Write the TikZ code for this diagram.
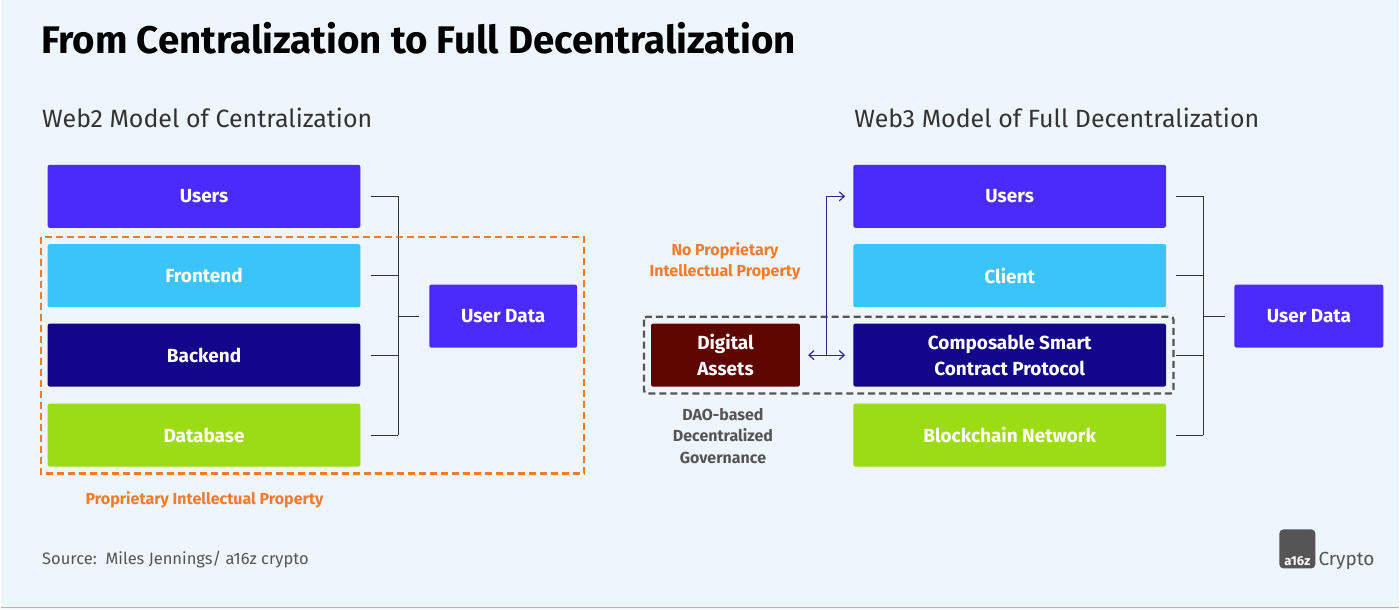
\documentclass[tikz,border=0pt]{standalone}
\usepackage{fontspec}
\setmainfont{Fira Sans}
\usetikzlibrary{arrows.meta}
\definecolor{bg}{HTML}{EEF5FC}
\definecolor{cUsers}{HTML}{4A2BFC}
\definecolor{cFront}{HTML}{3AC4FA}
\definecolor{cBack}{HTML}{12068A}
\definecolor{cDb}{HTML}{9CDC14}
\definecolor{cAsset}{HTML}{5E0500}
\definecolor{cOrange}{HTML}{F47B2A}
\definecolor{cArrow}{HTML}{2E2A8C}
\definecolor{cText}{HTML}{333333}
\definecolor{cGray}{HTML}{555555}
\begin{document}
\begin{tikzpicture}[x=1pt,y=-1pt,
  box/.style={draw=none,fill=#1,rounded corners=2pt,text=white,font=\fontsize{19}{22}\selectfont\bfseries,align=center,inner sep=0pt},
  row/.style={box=#1,minimum width=313pt,minimum height=63pt},
  brk/.style={draw=cText,line width=0.9pt},
  lbl/.style={font=\fontsize{16}{21.5}\selectfont\bfseries,align=center}]
\fill[bg] (0,0) rectangle (1400,610);
\draw[gray!60,line width=1.5pt] (0,608) -- (1400,608);
\useasboundingbox (0,0) rectangle (1400,610);
\node[anchor=west,font=\fontsize{38.5}{42}\selectfont\bfseries,text=black] (title) at (37,38) {From Centralization to Full Decentralization};
\node[anchor=west,font=\fontsize{25}{28}\selectfont,text=cText] (st1) at (38,118) {Web2 Model of Centralization};
\node[anchor=west,font=\fontsize{25}{28}\selectfont,text=cText] (st2) at (851,118) {Web3 Model of Full Decentralization};
% left
\node[row=cUsers] (lu) at (203.5,196.5) {Users};
\node[row=cFront] (lf) at (203.5,276) {Frontend};
\node[row=cBack] (lb) at (203.5,355.5) {Backend};
\node[row=cDb] (ld) at (203.5,435.5) {Database};
\node[box=cUsers,minimum width=148pt,minimum height=63pt] (lud) at (503,316.5) {User Data};
\coordinate (lk) at (398,316.5);
\foreach \n in {lu,lf,lb,ld}{\draw[brk] (\n.east)++(10,0) -- (398,0 |- \n.east);}
\draw[brk] (398,196.5) -- (398,435.5);
\draw[brk] (lk) -- ([xshift=-10pt]lud.west);
\draw[cOrange,line width=2.2pt,dash pattern=on 7pt off 4pt] (40,237) rectangle (584,474);
\node[lbl,text=cOrange] (lp) at (204,500) {Proprietary Intellectual Property};
% right
\node[row=cUsers] (ru) at (1010,196.5) {Users};
\node[row=cFront] (rc) at (1010,276) {Client};
\node[row=cBack,font=\fontsize{19}{26}\selectfont\bfseries] (rp) at (1010,355.5) {Composable Smart\\Contract Protocol};
\node[row=cDb] (rb) at (1010,435.5) {Blockchain Network};
\node[box=cUsers,minimum width=149pt,minimum height=63pt] (rud) at (1309.5,316.5) {User Data};
\foreach \n in {ru,rc,rp,rb}{\draw[brk] (\n.east)++(10,0) -- (1204,0 |- \n.east);}
\draw[brk] (1204,196.5) -- (1204,435.5);
\draw[brk] (1204,316.5) -- ([xshift=-9pt]rud.west);
\node[box=cAsset,minimum width=149pt,minimum height=63pt,font=\fontsize{19}{26}\selectfont\bfseries] (da) at (725.5,355.5) {Digital\\Assets};
\draw[cGray,line width=2.2pt,dash pattern=on 7pt off 4pt,rounded corners=3pt] (644,317) rectangle (1174,394);
\draw[cArrow,line width=1.2pt,{Straight Barb[length=5pt,width=9pt]}-{Straight Barb[length=5pt,width=9pt]}] ([xshift=8pt]da.east) -- ([xshift=-8pt]rp.west);
\coordinate (jn) at (827,355.5);
\draw[cArrow,line width=1.2pt,-{Straight Barb[length=5pt,width=9pt]}] (jn) -- (827,196.5) -- ([xshift=-8pt]ru.west);
\node[lbl,text=cOrange] (np) at (725,261.5) {No Proprietary\\Intellectual Property};
\node[lbl,text=cGray] (dao) at (723,436.5) {DAO-based\\Decentralized\\Governance};
\node[anchor=west,font=\fontsize{16.5}{19}\selectfont,text=cGray] (src) at (38,560) {Source:\ \ Miles Jennings/ a16z crypto};
% logo
\fill[cGray,rounded corners=4pt] (1280,569) -- (1280,530) -- (1316,530) -- (1316,569) -- cycle;
\node[anchor=base,font=\fontsize{13}{16}\selectfont\bfseries,text=white,inner sep=0] (a16z) at (1298,566) {a16z};
\node[anchor=base west,font=\fontsize{19}{22}\selectfont,text=cGray,inner sep=0] (cr) at (1319,566) {Crypto};
\end{tikzpicture}
\end{document}
